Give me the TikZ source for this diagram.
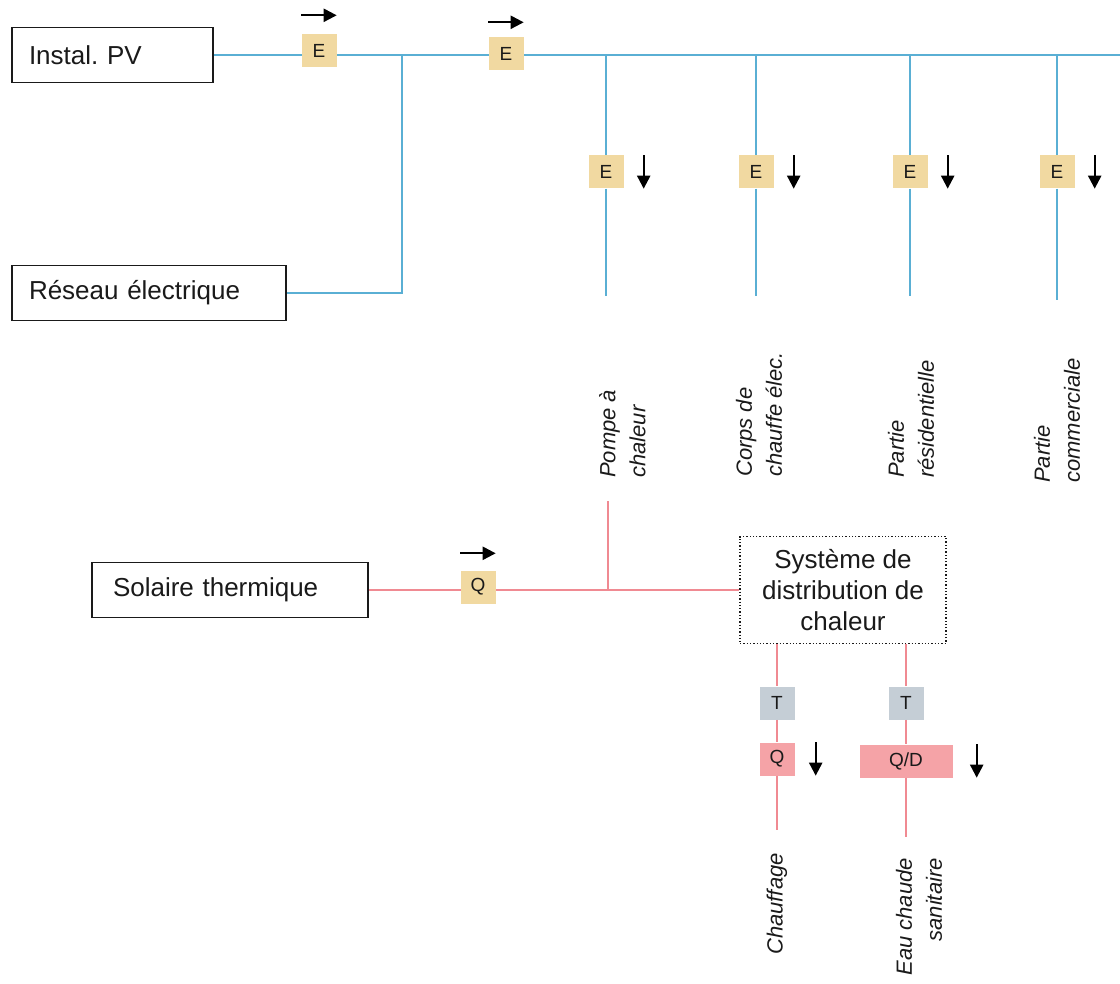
\documentclass[tikz,border=0pt]{standalone}
\usepackage{fontspec}
\setmainfont{Liberation Sans}
\usetikzlibrary{arrows.meta}
\definecolor{elecblue}{HTML}{5AAFD4}
\definecolor{heatred}{HTML}{F08A92}
\definecolor{metertan}{HTML}{F1D9A1}
\definecolor{heatpink}{HTML}{F5A3A7}
\definecolor{tempgray}{HTML}{C5CED6}
\definecolor{ink}{HTML}{1A1A1A}
\frenchspacing

\begin{document}
\begin{tikzpicture}[x=1pt,y=-1pt,
  source/.style={draw=ink, line width=1.9pt, fill=white, minimum height=55pt,
    inner xsep=17pt, align=left, text=ink, font=\fontsize{26}{30}\selectfont},
  distbox/.style={draw=ink, dotted, line width=1.3pt, fill=white, minimum width=206pt,
    minimum height=107pt, inner sep=0pt, align=center, text=ink, font=\fontsize{26}{31}\selectfont},
  elec/.style={draw=elecblue, line width=2pt},
  heat/.style={draw=heatred, line width=2pt},
  tag/.style={minimum width=35pt, minimum height=33pt, inner sep=0pt, text=ink,
    font=\fontsize{19}{22}\selectfont},
  meter/.style={tag, fill=metertan},
  temp/.style={tag, fill=tempgray},
  heatmeter/.style={tag, fill=heatpink},
  flow/.style={draw=black, -{Triangle[length=13pt,width=13pt]}, line width=2.2pt},
  vlabel/.style={rotate=90, inner sep=0pt, text=ink, font=\fontsize{22}{30}\selectfont\itshape}
]
\useasboundingbox (0,0) rectangle (1120,984);

% sources
\node[source, text width=167pt] (pv) at (112.5,55) {Instal. PV};
\node[source, text width=240pt] (grid) at (149,293) {Réseau électrique};
\node[source, inner xsep=21pt, text width=234pt] (solar) at (230,590) {Solaire thermique};
\node[distbox] (sys) at (843,590) {Système de\\distribution de\\chaleur};

% electrical bus
\coordinate (busend) at (1120,55);
\coordinate (jgrid) at (402,55);
\draw[elec] (pv.east) -- (busend);
\draw[elec] (jgrid) |- (grid.east);

\node[meter] (e1) at (319,51) {E};
\node[meter] (e2) at (506,54) {E};
\draw[flow] ([yshift=19pt]e1.north west) -- ([yshift=19pt]e1.north east);
\draw[flow] ([yshift=15pt]e2.north west) -- ([yshift=15pt]e2.north east);

% electrical consumers
\foreach \i/\x/\yb in {1/606/296, 2/756/296, 3/910/296, 4/1057/300}{
  \coordinate (tap\i) at (\x,55);
  \coordinate (tapend\i) at (\x,\yb);
  \node[meter] (m\i) at (\x,172) {E};
  \draw[elec] (tap\i) -- (m\i) -- (tapend\i);
  \draw[flow] ([xshift=20pt]m\i.north east) -- ([xshift=20pt]m\i.south east);
}

\node[vlabel, anchor=west, align=left] (lpump) at (622.5,478) {Pompe à\\chaleur};
\node[vlabel, anchor=west, align=left] (lcorps) at (759,477) {Corps de\\chauffe élec.};
\node[vlabel, anchor=west, align=left] (lres) at (911,478) {Partie\\résidentielle};
\node[vlabel, anchor=west, align=left] (lcom) at (1057,483) {Partie\\commerciale};

% heat supply
\coordinate (jpump) at (608,590);
\coordinate (pumptop) at (608,501);
\draw[heat] (solar.east) -- (sys.west);
\draw[heat] (jpump) -- (pumptop);
\node[meter] (q0) at (478,587) {Q};
\draw[flow] ([yshift=17pt]q0.north west) -- ([yshift=17pt]q0.north east);

% heat consumers
\node[temp] (t1) at (777,703) {T};
\node[heatmeter] (q1) at (777,759) {Q};
\coordinate (heatend) at (777,830);
\draw[heat] (sys.south -| t1) -- (t1) -- (q1) -- (heatend);
\draw[flow] ([xshift=21pt]q1.north east) -- ([xshift=21pt]q1.south east);

\node[temp] (t2) at (906,703) {T};
\node[heatmeter, minimum width=93pt] (qd) at (906,761) {Q/D};
\coordinate (dhwend) at (906,837);
\draw[heat] (sys.south -| t2) -- (t2) -- (qd) -- (dhwend);
\draw[flow] ([xshift=24pt]qd.north east) -- ([xshift=24pt]qd.south east);

\node[vlabel, anchor=west] (lheat) at (777,955) {Chauffage};
\node[vlabel, anchor=east, align=right] (ldhw) at (919,858) {Eau chaude\\sanitaire};
\end{tikzpicture}
\end{document}
